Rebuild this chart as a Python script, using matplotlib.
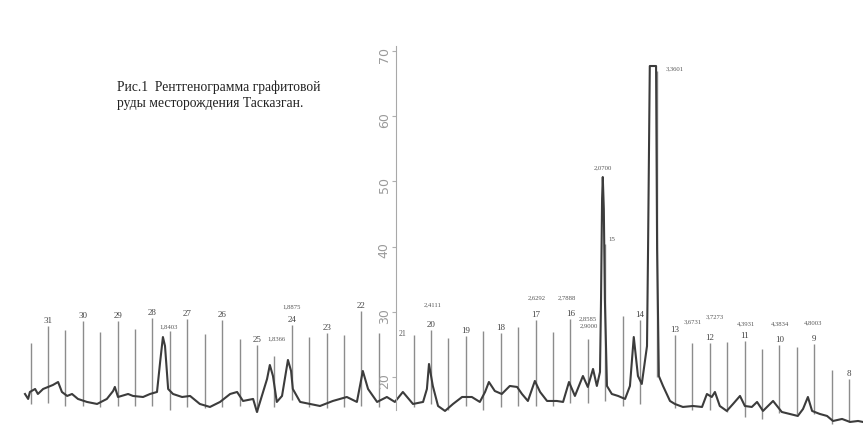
import matplotlib
matplotlib.use('Agg')
import matplotlib.pyplot as plt

# Diffractogram trace: chart position (degree marks) and intensity
trace_pos = [31.66, 31.57, 31.52, 31.37, 31.29, 31.14, 31.00, 30.86, 30.71, 30.60,
             30.45, 30.31, 30.14, 29.88, 29.59, 29.31, 29.13, 29.08, 28.99, 28.70,
             28.56, 28.27, 28.07, 27.87, 27.78, 27.70, 27.64, 27.55, 27.41, 27.15,
             26.92, 26.64, 26.35, 26.06, 25.77, 25.57, 25.40, 25.11, 25.00, 24.86,
             24.71, 24.63, 24.54, 24.43, 24.28, 24.20, 24.11, 24.02, 23.97, 23.76,
             23.48, 23.19, 22.82, 22.42, 22.13, 21.96, 21.81, 21.55, 21.27, 21.04,
             20.81, 20.52, 20.23, 20.12, 20.06, 19.95, 19.80, 19.60, 19.37, 19.11,
             18.83, 18.60, 18.45, 18.34, 18.17, 17.97, 17.74, 17.53, 17.39, 17.22,
             17.02, 16.87, 16.67, 16.39, 16.21, 16.04, 15.87, 15.73, 15.64, 15.50,
             15.35, 15.24, 15.15, 15.12, 15.09, 15.07, 15.04, 15.01, 14.95, 14.81,
             14.63, 14.43, 14.29, 14.18, 14.06, 13.95, 13.80, 13.77, 13.72, 13.54,
             13.51, 13.46, 13.34, 13.14, 13.00, 12.77, 12.48, 12.22, 12.08, 11.94,
             11.85, 11.71, 11.51, 11.33, 11.13, 10.99, 10.79, 10.64, 10.47, 10.27,
             10.18, 9.93, 9.70, 9.47, 9.32, 9.18, 9.06, 8.84, 8.63, 8.46,
             8.20, 7.97, 7.74, 7.60]
trace_int = [17.39, 16.63, 17.70, 18.16, 17.39, 18.16, 18.47, 18.77, 19.23, 17.70,
             17.09, 17.39, 16.63, 16.17, 15.86, 16.63, 17.85, 18.47, 16.93, 17.39,
             17.09, 16.93, 17.39, 17.70, 22.30, 26.13, 24.75, 18.16, 17.39, 16.93,
             17.09, 15.86, 15.40, 16.17, 17.39, 17.70, 16.32, 16.63, 14.63, 17.09,
             19.69, 21.84, 20.15, 16.17, 17.09, 19.69, 22.61, 20.92, 18.16, 16.17,
             15.86, 15.55, 16.32, 16.93, 16.17, 20.92, 18.16, 16.17, 16.93, 16.17,
             17.70, 15.86, 16.17, 18.16, 21.99, 18.62, 15.55, 14.79, 15.86, 16.93,
             16.93, 16.17, 17.70, 19.23, 17.85, 17.39, 18.62, 18.47, 17.39, 16.32,
             19.39, 17.70, 16.32, 16.32, 16.17, 19.23, 17.09, 18.93, 20.15, 18.47,
             21.23, 18.62, 20.77, 31.96, 47.30, 50.67, 45.77, 31.96, 18.62, 17.39,
             17.09, 16.63, 18.62, 26.13, 20.15, 18.93, 24.75, 39.63, 67.70, 67.70,
             39.63, 20.15, 18.62, 16.32, 15.86, 15.40, 15.55, 15.40, 17.39, 16.93,
             17.70, 15.55, 14.79, 15.86, 17.09, 15.55, 15.40, 16.17, 14.79, 15.86,
             16.32, 14.63, 14.33, 14.02, 15.09, 16.93, 14.79, 14.33, 14.02, 13.25,
             13.56, 13.10, 13.25, 13.10]

# Vertical chart marks every half division (the one at 21 sits under the axis)
marker_pos = [31.5, 31.0, 30.5, 30.0, 29.5, 29.0, 28.5, 28.0, 27.5, 27.0,
              26.5, 26.0, 25.5, 25.0, 24.5, 24.0, 23.5, 23.0, 22.5, 22.0,
              21.5, 20.5, 20.0, 19.5, 19.0, 18.5, 18.0, 17.5, 17.0, 16.5,
              16.0, 15.5, 15.0, 14.5, 14.0, 13.5, 13.0, 12.5, 12.0, 11.5,
              11.0, 10.5, 10.0, 9.5, 9.0, 8.5, 8.0]
marker_top = [25.21, 27.82, 27.21, 28.59, 26.90, 28.59, 27.36, 29.05, 27.06, 28.90,
              26.60, 28.74, 25.83, 24.91, 23.22, 28.00, 26.13, 26.75, 26.44, 30.12,
              26.75, 26.44, 27.21, 25.98, 26.29, 27.06, 26.75, 27.67, 28.74, 26.90,
              28.90, 25.83, 40.40, 29.36, 28.74, 67.00, 26.44, 25.21, 25.21, 25.37,
              25.52, 24.29, 24.91, 24.60, 25.06, 21.07, 19.69]
marker_bottom = [15.9, 16.0, 15.6, 15.6, 15.4, 15.6, 15.6, 15.6, 14.9, 15.4,
                 15.2, 15.4, 15.6, 14.6, 15.4, 16.5, 15.4, 15.3, 15.4, 15.6,
                 15.4, 15.4, 15.8, 15.0, 15.6, 15.0, 15.4, 15.6, 15.6, 15.6,
                 16.0, 16.0, 16.3, 15.6, 15.8, 20.0, 15.3, 15.0, 14.9, 14.7,
                 13.9, 13.5, 14.4, 14.3, 14.3, 12.8, 13.1]

# Division numbers written over the long marks
div_labels = ['31', '30', '29', '28', '27', '26', '25', '24', '23', '22', '21', '20',
              '19', '18', '17', '16', '15', '14', '13', '12', '11', '10', '9', '8']
div_pos = [31, 30, 29, 28, 27, 26, 25, 24, 23, 22, 21, 20,
           19, 18, 17, 16, 15, 14, 13, 12, 11, 10, 9, 8]

# Interplanar distances written next to the peaks
d_labels = ['1,8403', '1,8366', '1,8875', '2,4111', '2,6292', '2,7888', '2,8585', '2,9000',
            '2,0700', '3,3601', '3,6731', '3,7273', '4,3931', '4,3834', '4,8003']
d_pos = [27.55, 24.43, 24.02, 19.95, 16.96, 16.10, 15.50, 15.47,
         15.07, 13.00, 12.48, 11.85, 10.96, 9.98, 9.04]
d_int = [27.82, 25.98, 30.89, 31.20, 32.27, 32.27, 29.05, 27.98,
         52.21, 67.39, 28.59, 29.36, 28.28, 28.28, 28.44]

y_ticks = [20, 30, 40, 50, 60, 70]

caption = 'Рис.1  Рентгенограмма графитовой\nруды месторождения Тасказган.'

fig = plt.figure(figsize=(8.63, 4.27), dpi=100)
ax = fig.add_axes([0, 0, 1, 1])

ax.vlines(marker_pos, marker_bottom, marker_top, color='#8c8c8c', lw=1.0, zorder=1)
ax.plot(trace_pos, trace_int, color='#3c3c3c', lw=1.5, zorder=2)

# only the intensity axis is drawn, standing at division 21
for side in ['top', 'right', 'bottom']:
    ax.spines[side].set_visible(False)
ax.spines['left'].set_position(('data', 21))
ax.spines['left'].set_bounds(15, 70.8)
ax.spines['left'].set_color('#a8a8a8')
ax.set_xticks([])
ax.set_yticks(y_ticks)
ax.tick_params(axis='y', labelrotation=90, labelsize=9, labelcolor='#9a9a9a',
               color='#b0b0b0', length=3, pad=1)
ax.set_xlim(32.378, 7.598)
ax.set_ylim(12.48, 77.98)

tops = dict(zip(marker_pos, marker_top))
for txt, p in zip(div_labels, div_pos):
    if txt == '21':
        ax.annotate(txt, (p, 26.2), xytext=(4.5, 0), textcoords='offset points',
                    ha='center', va='bottom', fontsize=5.5, color='#555555',
                    family='Liberation Serif')
    elif txt == '15':
        ax.annotate(txt, (p, tops[p]), xytext=(4.5, 2), textcoords='offset points',
                    ha='center', va='bottom', fontsize=5, color='#555555',
                    family='Liberation Serif')
    else:
        ax.annotate(txt, (p, tops[p]), xytext=(0, 1.5), textcoords='offset points',
                    ha='center', va='bottom', fontsize=6.5, color='#444444',
                    family='Liberation Serif')

for txt, p, v in zip(d_labels, d_pos, d_int):
    ax.text(p, v, txt, ha='center', va='center', fontsize=4.8, color='#555555',
            family='Liberation Serif')

fig.text(117 / 863, 1 - 81 / 427, caption, ha='left', va='top', fontsize=9.8,
         family='Liberation Serif', color='#222222', linespacing=1.3)

fig.savefig('out.png', dpi=100, facecolor='white')
